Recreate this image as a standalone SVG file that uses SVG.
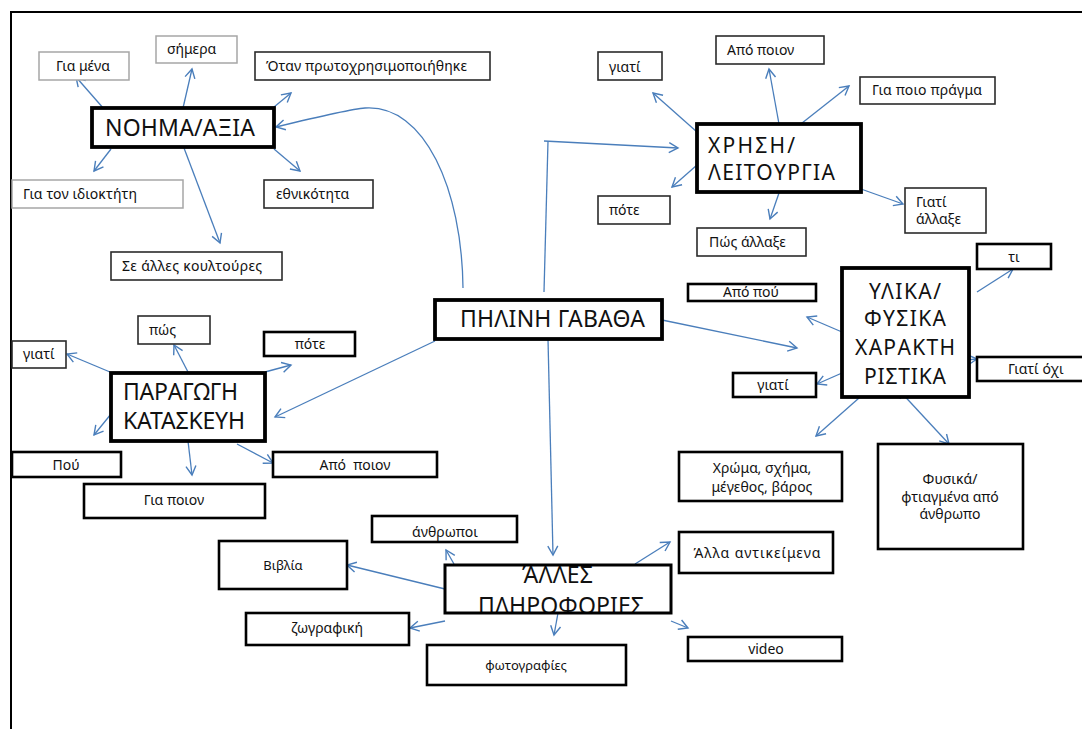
<svg xmlns="http://www.w3.org/2000/svg" width="1082" height="729" viewBox="0 0 1082 729">
<style>
text{font-family:"Noto Sans","Open Sans","DejaVu Sans",sans-serif;fill:#111;font-size:14px}
.c{text-anchor:middle}
.big{font-size:21px}
.mid{font-size:23px}
.x{font-size:21px}
.sm{font-size:13px}
rect{fill:#fff}
.g{stroke:#a6a6a6;stroke-width:1.5}
.t{stroke:#2b2b2b;stroke-width:1.6}
.k{stroke:#000;stroke-width:2.6}
.m{stroke:#000;stroke-width:3.8}
.e{fill:none;stroke:#4a7ebb;stroke-width:1.3}
.a{marker-end:url(#ah)}
</style>
<defs>
<marker id="ah" markerUnits="userSpaceOnUse" markerWidth="14" markerHeight="14" refX="10" refY="6" orient="auto-start-reverse">
<path d="M1,1 L10,6 L1,11" fill="none" stroke="#4a7ebb" stroke-width="1.4"/>
</marker>
</defs>
<path d="M10,12 H1082 M11,12 V729" fill="none" stroke="#000" stroke-width="2"/>
<g id="connectors">
<path class="e a" d="M111,117 L76,77"/>
<path class="e a" d="M183,108 L192,69"/>
<path class="e a" d="M274,107 L291,93"/>
<path class="e a" d="M111,149 L94,171"/>
<path class="e a" d="M274,149 L300,171"/>
<path class="e a" d="M184,148 L220,243"/>
<path class="e a" d="M463,288 C462,190 425,104 365,108 Q350,109 276,127"/>
<path class="e" d="M544,292 L548,141"/>
<path class="e a" d="M544,141 L678,148"/>
<path class="e a" d="M697,132 L653,93"/>
<path class="e a" d="M779,124 L769,69"/>
<path class="e a" d="M797,127 L849,86"/>
<path class="e a" d="M697,165 L672,187"/>
<path class="e a" d="M779,193 L770,219"/>
<path class="e a" d="M861,189 L903,204"/>
<path class="e a" d="M435,341 L275,417"/>
<path class="e a" d="M110,372 L67,354"/>
<path class="e a" d="M188,372 L174,345"/>
<path class="e a" d="M265,372 L291,365"/>
<path class="e a" d="M111,414 L94,435"/>
<path class="e a" d="M188,441 L192,475"/>
<path class="e a" d="M237,444 L273,463"/>
<path class="e a" d="M662,320 L797,348"/>
<path class="e a" d="M977,292 L1013,269"/>
<path class="e a" d="M842,332 L807,317"/>
<path class="e a" d="M966,360 L977,359"/>
<path class="e a" d="M842,373 L817,384"/>
<path class="e a" d="M859,398 L816,436"/>
<path class="e a" d="M898,389 L949,444" marker-start="url(#ah)"/>
<path class="e a" d="M548,339 L553,555"/>
<path class="e a" d="M454,564 L446,550"/>
<path class="e a" d="M445,589 L347,565"/>
<path class="e a" d="M445,621 L410,628"/>
<path class="e a" d="M558,613 L554,635"/>
<path class="e a" d="M635,564 L670,542"/>
<path class="e a" d="M671,621 L688,628"/>
</g>
<g id="n-gia-mena"><rect class="g" x="39" y="52" width="90" height="28"/><text x="56" y="71">Για μένα</text></g>
<g id="n-simera"><rect class="g" x="156" y="36" width="81" height="27"/><text x="167" y="54">σήμερα</text></g>
<g id="n-otan"><rect class="t" x="255" y="52" width="235" height="28"/><text x="266" y="71" textLength="201">Όταν πρωτοχρησιμοποιήθηκε</text></g>
<g id="n-noima"><rect class="m" x="92" y="108" width="182" height="39"/><text class="mid" x="105" y="136" textLength="150">ΝΟΗΜΑ/ΑΞΙΑ</text></g>
<g id="n-idioktiti"><rect class="g" x="12" y="180" width="171" height="28"/><text x="23" y="199" textLength="114">Για τον ιδιοκτήτη</text></g>
<g id="n-ethnikotita"><rect class="t" x="264" y="180" width="109" height="28"/><text x="276" y="199">εθνικότητα</text></g>
<g id="n-koultoures"><rect class="t" x="111" y="252" width="171" height="28"/><text x="122" y="271" textLength="140">Σε άλλες κουλτούρες</text></g>
<g id="n-giati1"><rect class="t" x="598" y="52" width="64" height="28"/><text x="609" y="72">γιατί</text></g>
<g id="n-apo-poion1"><rect class="t" x="716" y="36" width="108" height="28"/><text x="727" y="55">Από ποιον</text></g>
<g id="n-gia-poio"><rect class="t" x="860" y="77" width="135" height="27"/><text x="872" y="95" textLength="110">Για ποιο πράγμα</text></g>
<g id="n-xrisi"><rect class="m" x="697" y="124" width="164" height="68"/><text class="x" x="708" y="153" textLength="87">ΧΡΗΣΗ/</text><text class="x" x="708" y="180" textLength="127">ΛΕΙΤΟΥΡΓΙΑ</text></g>
<g id="n-pote1"><rect class="t" x="598" y="196" width="72" height="28"/><text x="609" y="215">πότε</text></g>
<g id="n-pos-allaxe"><rect class="t" x="697" y="228" width="109" height="28"/><text x="709" y="247">Πώς άλλαξε</text></g>
<g id="n-giati-allaxe"><rect class="t" x="905" y="188" width="81" height="45"/><text x="916" y="207">Γιατί</text><text x="916" y="224">άλλαξε</text></g>
<g id="n-ti"><rect class="k" x="977" y="244" width="74" height="25"/><text class="c" x="1014" y="262">τι</text></g>
<g id="n-ylika"><rect class="m" x="842" y="268" width="127" height="129"/><text class="big c" x="905" y="299" textLength="72">ΥΛΙΚΑ/</text><text class="big c" x="905" y="326" textLength="82">ΦΥΣΙΚΑ</text><text class="big c" x="905" y="355" textLength="100">ΧΑΡΑΚΤΗ</text><text class="big c" x="905" y="384" textLength="82">ΡΙΣΤΙΚΑ</text></g>
<g id="n-apo-pou"><rect class="k" x="688" y="284" width="128" height="17"/><text class="c" x="751" y="297">Από πού</text></g>
<g id="n-giati-oxi"><rect class="k" x="977" y="357" width="110" height="24"/><text x="1008" y="374">Γιατί όχι</text></g>
<g id="n-giati2"><rect class="k" x="733" y="373" width="83" height="24"/><text class="c" x="773" y="390">γιατί</text></g>
<g id="n-xroma"><rect class="k" x="679" y="452" width="163" height="49"/><text class="c" x="762" y="473">Χρώμα, σχήμα,</text><text class="c" x="762" y="492">μέγεθος, βάρος</text></g>
<g id="n-fysika"><rect class="k" x="878" y="444" width="145" height="105"/><text class="c" x="950" y="484">Φυσικά/</text><text class="c" x="950" y="502">φτιαγμένα από</text><text class="c" x="950" y="519">άνθρωπο</text></g>
<g id="n-giati3"><rect class="t" x="12" y="341" width="54" height="27"/><text x="23" y="359">γιατί</text></g>
<g id="n-pos"><rect class="t" x="138" y="316" width="72" height="28"/><text x="149" y="335">πώς</text></g>
<g id="n-pote2"><rect class="k" x="264" y="332" width="91" height="24"/><text class="c" x="310" y="349">πότε</text></g>
<g id="n-paragogi"><rect class="m" x="111" y="373" width="154" height="68"/><text class="mid" x="123" y="400" textLength="115">ΠΑΡΑΓΩΓΗ</text><text class="mid" x="123" y="429" textLength="122">ΚΑΤΑΣΚΕΥΗ</text></g>
<g id="n-pou"><rect class="k" x="12" y="452" width="109" height="25"/><text class="c" x="66" y="470">Πού</text></g>
<g id="n-apo-poion2"><rect class="k" x="273" y="452" width="164" height="25"/><text class="c" x="355" y="470" xml:space="preserve">Από  ποιον</text></g>
<g id="n-gia-poion"><rect class="k" x="84" y="484" width="181" height="34"/><text class="c" x="174" y="505">Για ποιον</text></g>
<g id="n-pilini"><rect class="m" x="435" y="300" width="227" height="39"/><text class="mid" x="460" y="327" textLength="185">ΠΗΛΙΝΗ ΓΑΒΑΘΑ</text></g>
<g id="n-anthropoi"><rect class="k" x="372" y="516" width="145" height="26"/><text class="c" x="445" y="537">άνθρωποι</text></g>
<g id="n-vivlia"><rect class="k" x="219" y="541" width="128" height="48"/><text class="c sm" x="283" y="570">Βιβλία</text></g>
<g id="n-alles"><rect x="445" y="565" width="226" height="48" stroke="none"/><text class="mid" x="522" y="583" textLength="71">ΆΛΛΕΣ</text><text class="mid" x="478" y="614" textLength="166">ΠΛΗΡΟΦΟΡΙΕΣ</text><rect class="k" x="445" y="565" width="226" height="48" style="fill:none;stroke-width:3"/></g>
<g id="n-zografiki"><rect class="k" x="246" y="613" width="163" height="32"/><text class="c" x="327" y="633">ζωγραφική</text></g>
<g id="n-fotografies"><rect class="k" x="427" y="645" width="199" height="40"/><text class="c sm" x="526" y="670">φωτογραφίες</text></g>
<g id="n-alla-antik"><rect class="k" x="679" y="532" width="154" height="41"/><text class="c" x="757" y="558" textLength="127">Άλλα αντικείμενα</text></g>
<g id="n-video"><rect class="k" x="688" y="637" width="154" height="24"/><text class="c" x="766" y="654">video</text></g>
</svg>
